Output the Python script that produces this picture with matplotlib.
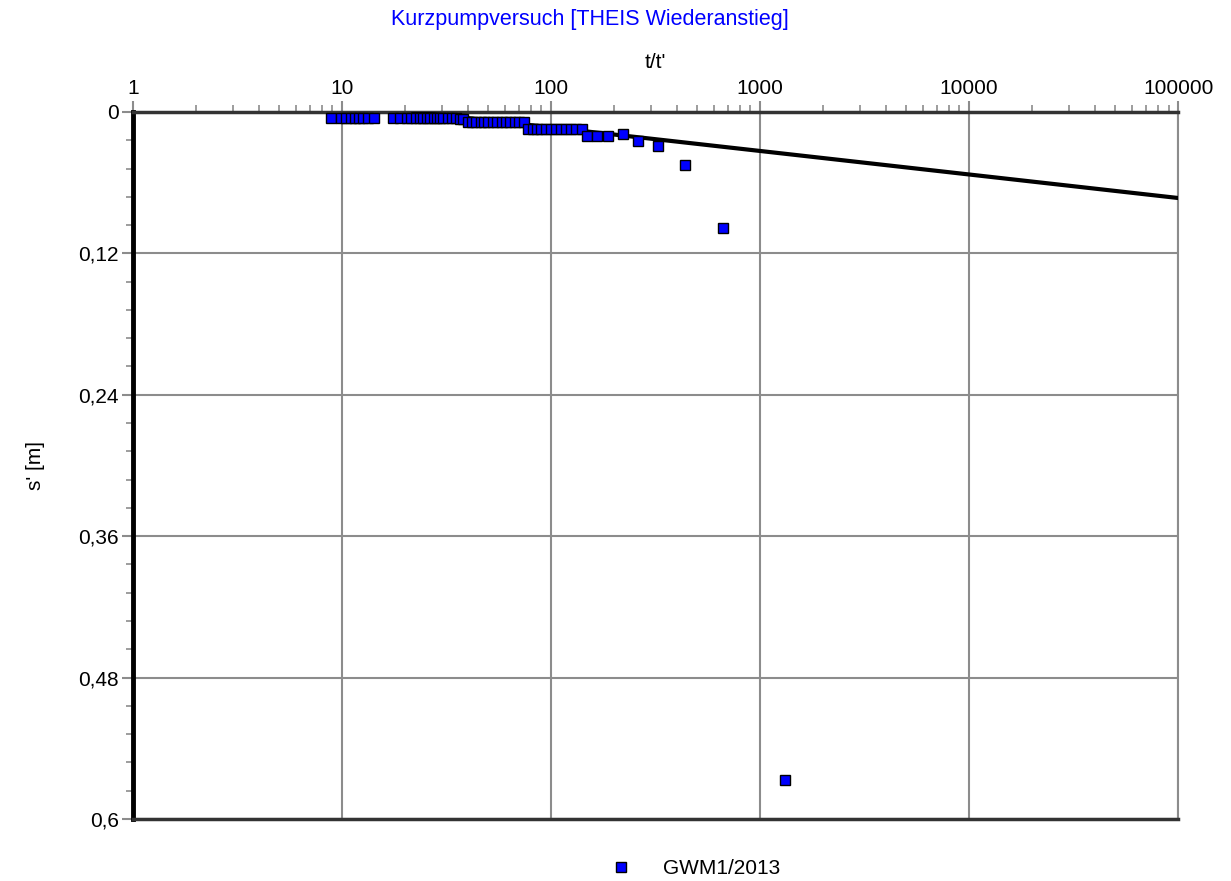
"""Kurzpumpversuch - THEIS Wiederanstieg (recovery plot), written to out.png."""
import matplotlib
matplotlib.use("Agg")
import matplotlib.pyplot as plt
from matplotlib.ticker import FixedLocator, FuncFormatter, LogLocator, NullFormatter

plt.rcParams["font.family"] = ["Liberation Sans", "DejaVu Sans"]

# ----------------------------------------------------------------------------
# data

# measured points: t/t' and residual drawdown s' [m]
t_ratio = [
    8.9, 9.9, 10.5, 11.0, 11.5, 12.0, 12.6, 13.3, 14.3,
    17.6, 19.0, 20.4,
    21.5, 22.5, 23.5, 24.5, 25.5, 26.5, 27.5, 28.5, 29.5, 30.5,
    32.0, 33.5, 35.0, 36.5, 38.0,
    40, 42, 44, 46, 48, 50, 52.5, 55, 58, 61, 64, 67, 70, 74,
    78, 82, 86, 90, 95, 100, 106, 112, 118, 125, 132, 140,
    149, 166, 187, 221, 261, 325, 437, 665, 1318,
]
s_resid = [
    0.005, 0.005, 0.005, 0.005, 0.005, 0.005, 0.005, 0.005, 0.005,
    0.005, 0.005, 0.005,
    0.005, 0.005, 0.005, 0.005, 0.005, 0.005, 0.005, 0.005, 0.005, 0.005,
    0.0055, 0.0055, 0.0055, 0.006, 0.006,
    0.0085, 0.0085, 0.0085, 0.0085, 0.0085, 0.0085, 0.0085, 0.0085,
    0.0085, 0.0085, 0.0085, 0.0085, 0.0085, 0.0085,
    0.0144, 0.0144, 0.0144, 0.0144, 0.0144, 0.0144, 0.0144, 0.0144,
    0.0144, 0.0144, 0.0144, 0.0144,
    0.020, 0.020, 0.020, 0.019, 0.025, 0.029, 0.045, 0.0985, 0.567,
]

# fitted THEIS straight line (endpoints)
fit_t = [22, 100000]
fit_s = [0.0, 0.073]

y_ticks = [0, 0.12, 0.24, 0.36, 0.48, 0.6]
x_ticks = [1, 10, 100, 1000, 10000, 100000]

SERIES_NAME = "GWM1/2013"
TITLE = "Kurzpumpversuch [THEIS Wiederanstieg]"
GRID_GRAY = "#8c8c8c"

# ----------------------------------------------------------------------------

fig = plt.figure(figsize=(12.31, 8.81), dpi=100)
ax = fig.add_axes([0.108, 0.0704, 0.849, 0.8025])

ax.set_xscale("log")
ax.set_xlim(1, 100000)
ax.set_ylim(0.6, 0)

# grid first so the marks sit on top
ax.grid(True, which="major", color=GRID_GRAY, linewidth=1.5)
ax.set_axisbelow(True)

ax.plot(fit_t, fit_s, color="black", linewidth=3, zorder=3)
ax.plot(t_ratio, s_resid, linestyle="none", marker="s", markersize=6.5,
        markerfacecolor="#0000ff", markeredgecolor="black", markeredgewidth=1,
        label=SERIES_NAME, zorder=4, clip_on=False)

# x axis on top
ax.xaxis.tick_top()
ax.xaxis.set_label_position("top")
ax.xaxis.set_major_locator(FixedLocator(x_ticks))
ax.xaxis.set_major_formatter(FuncFormatter(lambda v, p: f"{v:g}" if v < 1e5 else "100000"))
ax.xaxis.set_minor_locator(LogLocator(base=10, subs=range(2, 10)))
ax.xaxis.set_minor_formatter(NullFormatter())
ax.set_xlabel("t/t'", fontsize=15, labelpad=8)

# y axis with comma decimals
ax.yaxis.set_major_locator(FixedLocator(y_ticks))
ax.yaxis.set_minor_locator(FixedLocator([i * 0.024 for i in range(26)]))
ax.yaxis.set_major_formatter(FuncFormatter(lambda v, p: f"{v:g}".replace(".", ",")))
ax.set_ylabel("s' [m]", fontsize=15, labelpad=24)

ax.tick_params(which="major", direction="out", length=8, width=1.5,
               color=GRID_GRAY, labelsize=15, pad=2)
ax.tick_params(which="minor", direction="out", length=5, width=1.2,
               color=GRID_GRAY)

# frame: heavy black left edge, gray right
ax.spines["left"].set_linewidth(3.5)
ax.spines["left"].set_color("black")
ax.spines["top"].set_linewidth(2.5)
ax.spines["top"].set_color("#333333")
ax.spines["bottom"].set_linewidth(2.5)
ax.spines["bottom"].set_color("#333333")
ax.spines["right"].set_linewidth(1.5)
ax.spines["right"].set_color(GRID_GRAY)

fig.text(590 / 1231, 1 - 20 / 881, TITLE, color="#0000ff", fontsize=15.5,
         ha="center", va="center")

fig.legend(loc="center", bbox_to_anchor=(690 / 1231, 1 - 869 / 881),
           frameon=False, fontsize=15, handletextpad=1.0, markerscale=1.0)

fig.savefig("out.png", dpi=100)
